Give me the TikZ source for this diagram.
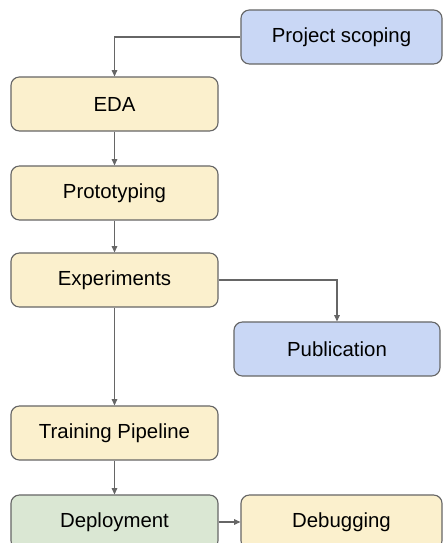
\documentclass[tikz,border=0pt]{standalone}
\usepackage{fontspec}
\setmainfont{Liberation Sans}
\usetikzlibrary{arrows.meta}
\definecolor{stageblue}{HTML}{C9D7F5}
\definecolor{stageyellow}{HTML}{FBF0CD}
\definecolor{stagegreen}{HTML}{DAE7D3}
\definecolor{stageline}{HTML}{666666}
\tikzset{
  stage/.style={draw=stageline, line width=0.8pt, rounded corners=6pt,
    minimum width=5.175cm, minimum height=1.35cm,
    font=\fontsize{14.5}{17}\selectfont},
  flow/.style={draw=stageline, line width=0.8pt,
    -{Triangle[length=4.5pt,width=4pt]}}
}
\begin{document}
\begin{tikzpicture}[x=0.025cm, y=-0.025cm]
      \useasboundingbox (0,0) rectangle (443,543);
      \clip (0,0) rectangle (443,543);
      \draw
        (341.5,37) node[stage, fill=stageblue, minimum width=5.025cm] (scoping){Project scoping}
        (114.5,104) node[stage, fill=stageyellow] (eda){EDA}
        (114.5,193) node[stage, fill=stageyellow] (proto){Prototyping}
        (114.5,280) node[stage, fill=stageyellow] (exper){Experiments}
        (337,349) node[stage, fill=stageblue, minimum width=5.15cm] (pub){Publication}
        (114.5,433) node[stage, fill=stageyellow] (train){Training Pipeline}
        (114.5,522) node[stage, fill=stagegreen] (deploy){Deployment}
        (341.5,522) node[stage, fill=stageyellow, minimum width=5.025cm] (debug){Debugging};
      \begin{scope}[flow]
        \draw (scoping) -| (eda);
        \draw (eda) to (proto);
        \draw (proto) to (exper);
        \draw (exper) -| (pub);
        \draw (exper) to (train);
        \draw (train) to (deploy);
        \draw (deploy) to (debug);
      \end{scope}
    \end{tikzpicture}
\end{document}
